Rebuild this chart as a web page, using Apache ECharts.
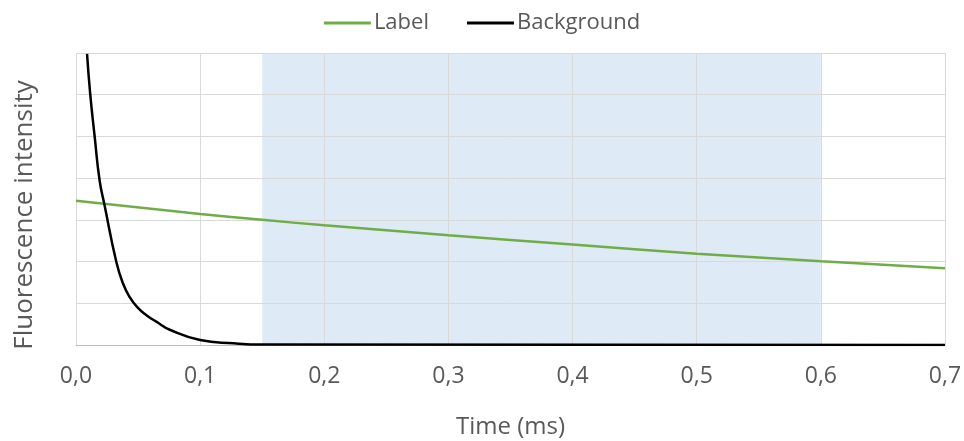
<!DOCTYPE html>
<html><head><meta charset="utf-8">
<script src="https://cdn.jsdelivr.net/npm/echarts@6/dist/echarts.min.js"></script>
<style>html,body{margin:0;padding:0;background:#fff}#c{width:964px;height:441px}</style>
</head><body><div id="c"></div>
<script>
const labelTime = [0, 0.1, 0.15, 0.2, 0.3, 0.4, 0.5, 0.6, 0.7];
const labelValues = [3.46, 3.14, 3.0, 2.87, 2.63, 2.41, 2.19, 2.01, 1.84];
const bgTime = [0.0089, 0.0115, 0.015, 0.019, 0.023, 0.0325, 0.0378, 0.0432, 0.0495, 0.057, 0.0647, 0.076, 0.1, 0.127, 0.15, 0.7];
const bgValues = [6.98, 6.0, 5.01, 3.95, 3.35, 1.99, 1.48, 1.15, 0.9, 0.71, 0.56, 0.36, 0.12, 0.04, 0.01, 0];
const shadeRange = [0.15, 0.6];
const xTicks = [0, 0.1, 0.2, 0.3, 0.4, 0.5, 0.6, 0.7];
const yTitle = 'Fluorescence intensity';

const zip = (a, b) => a.map((x, i) => [x, b[i]]);
const fontFamily = '"Open Sans", sans-serif';
const chart = echarts.init(document.getElementById('c'));
chart.setOption({
  animation: false,
  textStyle: { fontFamily: fontFamily },
  legend: {
    top: 7, left: 'center', itemWidth: 47, itemHeight: 3, itemGap: 38, icon: 'rect',
    textStyle: { fontSize: 22, color: '#595959', fontFamily: fontFamily, padding: [0, 0, 0, -2] },
    data: ['Label', 'Background']
  },
  graphic: [{
    type: 'text', x: 25, y: 215, rotation: Math.PI / 2,
    style: { text: yTitle, fontSize: 26, fill: '#595959', fontFamily: fontFamily,
      align: 'center', verticalAlign: 'middle' }
  }],
  grid: { left: 76, right: 19, top: 53, bottom: 96, outerBoundsMode: 'none', containLabel: false },
  xAxis: {
    type: 'value', min: xTicks[0], max: xTicks[xTicks.length - 1], interval: 0.1, z: 6,
    name: 'Time (ms)', nameLocation: 'middle', nameGap: 70,
    nameTextStyle: { fontSize: 24, color: '#595959' },
    axisLine: { show: true, lineStyle: { color: '#bfbfbf', width: 1 } },
    axisTick: { show: false },
    axisLabel: { fontSize: 23, color: '#595959', margin: 20,
      formatter: v => v.toFixed(1).replace('.', ',') },
    splitLine: { show: true, lineStyle: { color: '#d9d9d9', width: 1 } }
  },
  yAxis: {
    type: 'value', min: 0, max: 7, interval: 1, z: 6,
    axisLine: { show: false }, axisTick: { show: false }, axisLabel: { show: false },
    splitLine: { show: true, lineStyle: { color: '#d9d9d9', width: 1 } }
  },
  series: [
    {
      type: 'line', name: 'shade', data: [], z: 0, silent: true,
      markArea: { silent: true, z: 0, itemStyle: { color: '#deebf7' },
        data: [[{ xAxis: shadeRange[0] }, { xAxis: shadeRange[1] }]] }
    },
    {
      type: 'line', name: 'Label', data: zip(labelTime, labelValues), z: 10,
      symbol: 'none', smooth: 0.3, lineStyle: { color: '#70ad47', width: 2.5 },
      itemStyle: { color: '#70ad47' }
    },
    {
      type: 'line', name: 'Background', data: zip(bgTime, bgValues), z: 11,
      symbol: 'none', smooth: 0.5,
      lineStyle: { color: '#000000', width: 2.5 },
      itemStyle: { color: '#000000' }
    }
  ]
});
</script></body></html>
